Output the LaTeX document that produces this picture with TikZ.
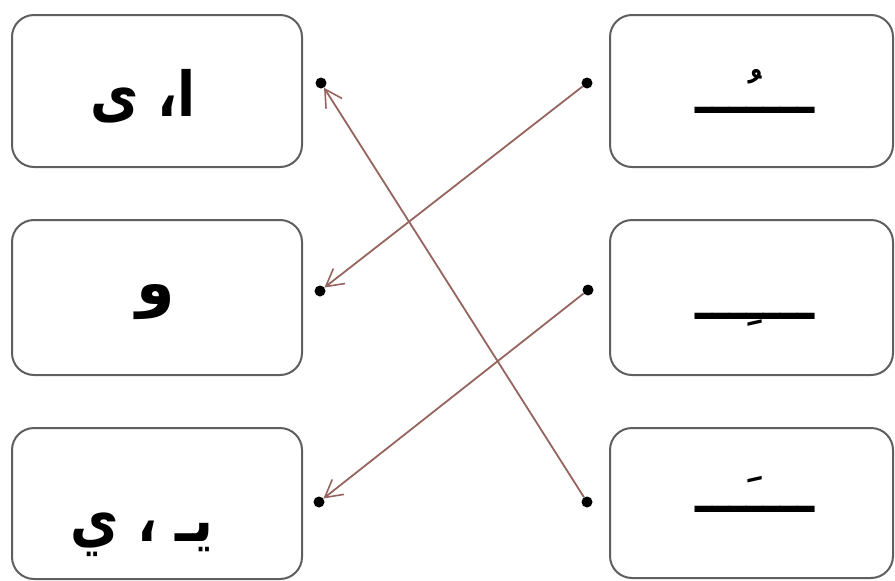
\documentclass[tikz,border=0pt]{standalone}
\usepackage{fontspec}
\usetikzlibrary{arrows.meta}
\TeXXeTstate=1
\newfontfamily\arabicfont[Script=Arabic]{DejaVu Sans}
\definecolor{boxgray}{RGB}{95,95,95}
\definecolor{linkcol}{RGB}{150,100,94}
\tikzset{
  card/.style={draw=boxgray, line width=2pt, rounded corners=22pt, fill=white},
  ans/.style={font=\arabicfont\bfseries\fontsize{62}{70}\selectfont, inner sep=0pt},
  harakah/.style={font=\arabicfont\bfseries\fontsize{50}{58}\selectfont, inner sep=0pt},
  pin/.style={circle, fill=black, inner sep=0pt, minimum size=11pt},
  link/.style={draw=linkcol, line width=1.8pt, -{Straight Barb[length=17pt,width=19pt,line width=1.6pt]}, shorten >=0pt}
}
\begin{document}
\begin{tikzpicture}[x=1pt,y=-1pt]
\useasboundingbox (0,0) rectangle (895,581);
% left boxes
\draw[card] (12,15) rectangle (302,167);
\draw[card] (12,220) rectangle (302,375);
\draw[card] (12,428) rectangle (302,579);
% right boxes
\draw[card] (610,15) rectangle (893,167);
\draw[card] (610,220) rectangle (893,375);
\draw[card] (610,428) rectangle (893,578);
% left texts
\node[ans, xscale=0.85] (t1) at (143,96) {\beginR ا، ى\endR};
\node[ans] (t2) at (156,302) {\beginR و\endR};
\node[ans, xscale=0.85] (t3) at (142,535) {\beginR يـ ، ي\endR};
% right texts
\node[harakah] (m1) at (755,91) {\beginR ــــُـــ\endR};
\node[harakah] (m2) at (755,320) {\beginR ــــِـــ\endR};
\node[harakah] (m3) at (755,494) {\beginR ــــَـــ\endR};
% dots
\node[pin] (l1) at (321,83) {};
\node[pin] (l2) at (320,291) {};
\node[pin] (l3) at (319,502) {};
\node[pin] (r1) at (587,83) {};
\node[pin] (r2) at (588,290) {};
\node[pin] (r3) at (587,502) {};
% links
\draw[link] (r1) -- (l2);
\draw[link] (r2) -- (l3);
\draw[link] (r3) -- (l1);
\end{tikzpicture}
\end{document}
